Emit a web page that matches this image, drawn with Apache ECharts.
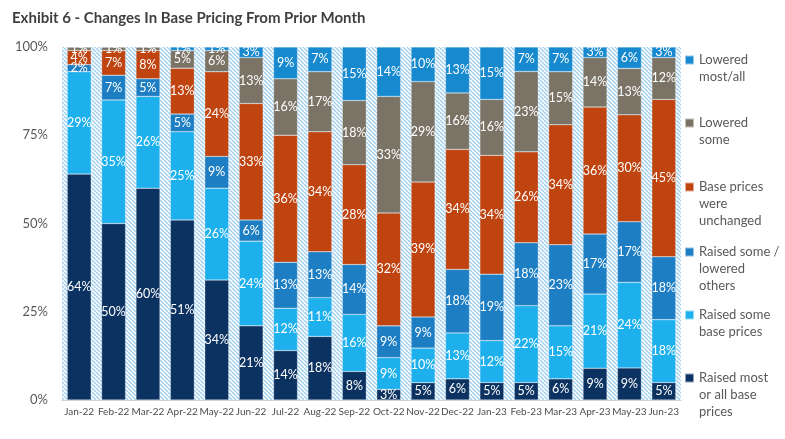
<!DOCTYPE html>
<html>
<head>
<meta charset="utf-8">
<script src="https://cdn.jsdelivr.net/npm/echarts@6/dist/echarts.min.js"></script>
<style>
html,body{margin:0;padding:0;background:#fff;}
#chart{width:785px;height:439px;}
</style>
</head>
<body>
<div id="chart"></div>
<script>
// ---- data ----
const months = ['Jan-22','Feb-22','Mar-22','Apr-22','May-22','Jun-22','Jul-22','Aug-22','Sep-22','Oct-22','Nov-22','Dec-22','Jan-23','Feb-23','Mar-23','Apr-23','May-23','Jun-23'];
const raisedMost     = [64,50,60,51,34,21,14,18, 8, 3, 5, 6, 5, 5, 6, 9, 9, 5];
const raisedSome     = [29,35,26,25,26,24,12,11,16, 9,10,13,12,22,15,21,24,18];
const raisedLowered  = [ 2, 7, 5, 5, 9, 6,13,13,14, 9, 9,18,19,18,23,17,17,18];
const unchanged      = [ 4, 7, 8,13,24,33,36,34,28,32,39,34,34,26,34,36,30,45];
const loweredSome    = [ 1, 1, 1, 5, 6,13,16,17,18,33,29,16,16,23,15,14,13,12];
const loweredMost    = [ 0, 0, 0, 1, 1, 3, 9, 7,15,14,10,13,15, 7, 7, 3, 6, 3];
const yTicks = [0,25,50,75,100];

const seriesNames = ['Raised most or all base prices','Raised some base prices','Raised some / lowered others','Base prices were unchanged','Lowered some','Lowered most/all'];
const seriesValues = [raisedMost, raisedSome, raisedLowered, unchanged, loweredSome, loweredMost];
const seriesColors = ['#0c3261','#1db0ec','#1d7ec3','#bf4410','#7b7466','#1689cf'];
const legendLines = {
  'Lowered most/all': ['Lowered','most/all'],
  'Lowered some': ['Lowered','some'],
  'Base prices were unchanged': ['Base prices','were','unchanged'],
  'Raised some / lowered others': ['Raised some /','lowered','others'],
  'Raised some base prices': ['Raised some','base prices'],
  'Raised most or all base prices': ['Raised most','or all base','prices']
};
const legendFirstLineY = {
  'Lowered most/all': 60, 'Lowered some': 123, 'Base prices were unchanged': 187,
  'Raised some / lowered others': 252, 'Raised some base prices': 315, 'Raised most or all base prices': 378
};

const FONT = 'Lato';
const LH = 17;

// hatch pattern
function makeHatch(){
  const c = document.createElement('canvas');
  const s = 4;
  c.width = s; c.height = s;
  const ctx = c.getContext('2d');
  ctx.fillStyle = '#ffffff';
  ctx.fillRect(0,0,s,s);
  ctx.strokeStyle = '#9fcfef';
  ctx.lineWidth = 1.4;
  for (const k of [-s,0,s]) {
    ctx.beginPath();
    ctx.moveTo(k,0); ctx.lineTo(k+s,s);
    ctx.stroke();
  }
  return c;
}

const totals = months.map((m,i)=>seriesValues.reduce((a,arr)=>a+arr[i],0));

const series = seriesNames.map((name, si) => ({
  name: name,
  type: 'bar',
  stack: 'total',
  barWidth: 24,
  itemStyle: {color: seriesColors[si], borderColor: 'rgba(255,255,255,0.55)', borderWidth: 0.5},
  label: {
    show: true,
    position: 'inside',
    color: '#ffffff',
    fontFamily: FONT,
    fontSize: 12.5,
    formatter: p => seriesValues[si][p.dataIndex] > 0 ? seriesValues[si][p.dataIndex] + '%' : ''
  },
  data: seriesValues[si].map((v,i)=> v/totals[i]*100)
}));

const legends = seriesNames.slice().reverse().map(name => {
  const lines = legendLines[name];
  const k = lines.length;
  const padded = new Array(k-1).fill('').concat(lines).join('\n');
  return {
    data: [name],
    orient: 'vertical',
    left: 684,
    top: legendFirstLineY[name] - (2*k-1)*LH/2,
    padding: 0,
    itemWidth: 9,
    itemHeight: 9,
    icon: 'rect',
    selectedMode: false,
    formatter: () => padded,
    textStyle: {fontFamily: FONT, fontSize: 13, color: '#595959', lineHeight: LH}
  };
});

const chart = echarts.init(document.getElementById('chart'), null, {renderer:'canvas'});
chart.setOption({
  animation: false,
  title: {
    text: 'Exhibit 6 - Changes In Base Pricing From Prior Month',
    left: 7, top: 6,
    textStyle: {fontFamily: FONT, fontWeight: 'bold', fontSize: 15, color: '#404040'}
  },
  legend: legends,
  grid: {
    left: 62, right: 104, top: 47, bottom: 39,
    show: true,
    borderWidth: 0,
    backgroundColor: {image: makeHatch(), repeat: 'repeat'}
  },
  xAxis: {
    type: 'category',
    data: months,
    axisLine: {show: true, lineStyle: {color: '#d0d0d0'}},
    axisTick: {show: false},
    axisLabel: {fontFamily: FONT, fontSize: 10, fontWeight: 'normal', color: '#4d4d4d', margin: 7, interval: 0}
  },
  yAxis: {
    type: 'value',
    min: yTicks[0], max: yTicks[yTicks.length-1], interval: 25,
    splitLine: {show: false},
    axisLine: {show: false},
    axisTick: {show: false},
    axisLabel: {fontFamily: FONT, fontSize: 13, color: '#595959', margin: 14, formatter: '{value}%'}
  },
  series: series
});
</script>
</body>
</html>
